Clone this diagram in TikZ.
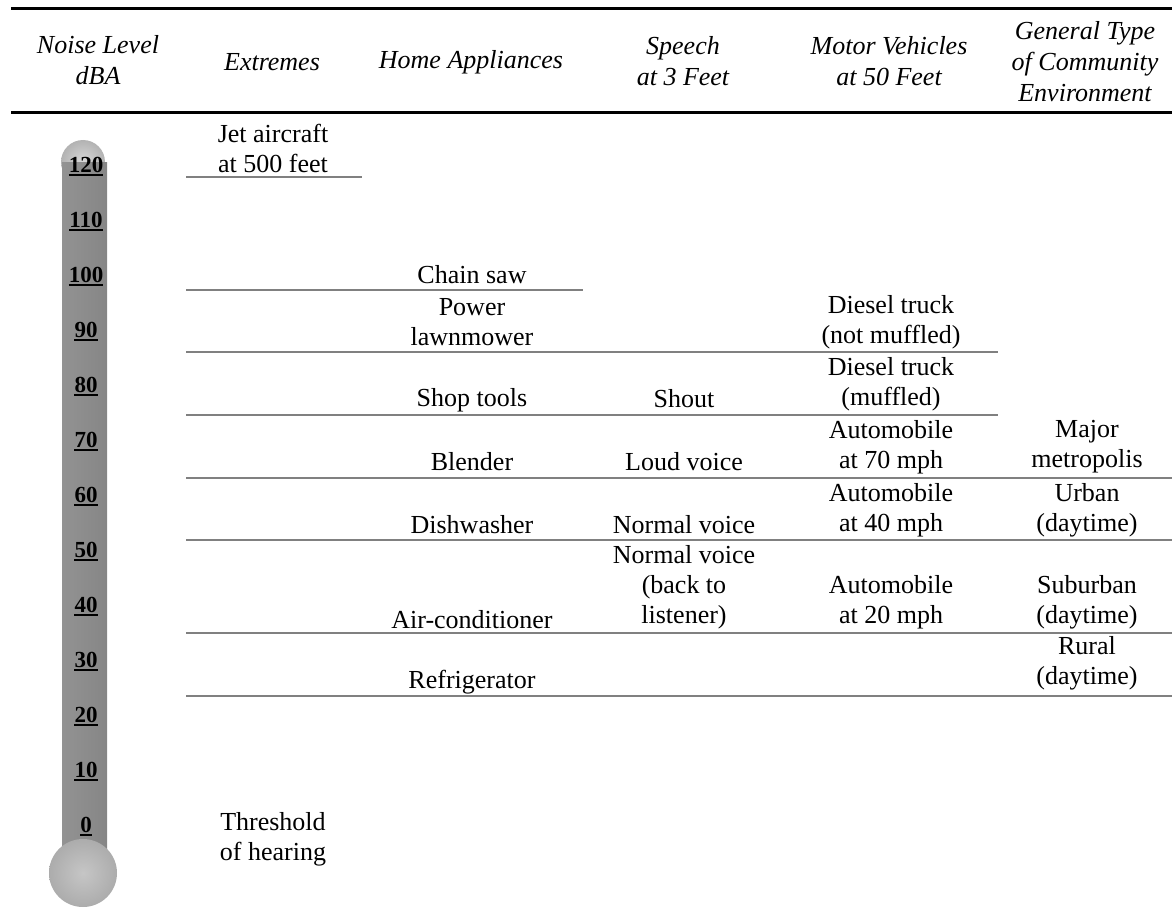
\documentclass[tikz,border=0pt]{standalone}
\usepackage{fontspec}
\setmainfont{Liberation Serif}
\usetikzlibrary{calc}
\definecolor{rulegray}{HTML}{808080}
\def\rowrule(#1)(#2:#3) {\draw[rowline] (#2,#1) -- (#3,#1);}
\def\scalemark(#1)(#2) {\node[degree] (n#2) at (86,#1) {#2};
		\draw[line width=2.5pt] ([yshift=-3pt]n#2.base west) -- ([yshift=-3pt]n#2.base east);}
\tikzset{
	cell/.style={align=center, inner sep=0pt},
	head/.style={cell, font=\fontsize{26}{31}\selectfont\itshape},
	rowline/.style={draw=rulegray, line width=2pt},
	headrule/.style={draw=black, line width=3pt},
	degree/.style={inner sep=0pt, anchor=base, font=\fontsize{23}{23}\selectfont\bfseries}
}

\begin{document}
\begin{tikzpicture}[x=1pt, y=-1pt, font=\fontsize{26}{30}\selectfont]

	\useasboundingbox (0,0) rectangle (1172,923);

	% header
	\draw[headrule] (11,9) -- (1172,9);
	\draw[headrule] (11,113) -- (1172,113);
	\node[head] (noise) at (98,60) {Noise Level\\dBA};
	\node[head] (extremes) at (272,62) {Extremes};
	\node[head] (home) at (471,62) {Home Appliances};
	\node[head] (speech) at (683,61) {Speech\\at 3 Feet};
	\node[head] (motor) at (889,61) {Motor Vehicles\\at 50 Feet};
	\node[head] (general) at (1085,62) {General Type\\of Community\\Environment};

	% thermometer
	\shade[inner color=gray!30, outer color=gray!60] (83,162) circle (22);
	\shade[left color=gray!85, middle color=gray!40, right color=gray!95] (62,162) rectangle (107,848);
	\shade[inner color=gray!45, outer color=gray!65] (83,873) circle (34);
	%\draw[gray!70] (83,873) circle (34);

	\scalemark(172)(120)
	\scalemark(227)(110)
	\scalemark(282)(100)
	\scalemark(337)(90)
	\scalemark(392)(80)
	\scalemark(447)(70)
	\scalemark(502)(60)
	\scalemark(557)(50)
	\scalemark(612)(40)
	\scalemark(667)(30)
	\scalemark(722)(20)
	\scalemark(777)(10)
	\scalemark(832)(0)

	% rows
	\rowrule(177)(186:362)
	\rowrule(290)(186:583)
	\rowrule(352)(186:998)
	\rowrule(415)(186:998)
	\rowrule(478)(186:1172)
	\rowrule(540)(186:1172)
	\rowrule(633)(186:1172)
	\rowrule(696)(186:1172)

	% extremes
	\node[cell] (jet) at (273,148) {Jet aircraft\\at 500 feet};
	\node[cell] (threshold) at (273,839) {Threshold\\of hearing};

	% home appliances
	\node[cell] (chainsaw) at (472,275) {Chain saw};
	\node[cell] (mower) at (472,322) {Power\\lawnmower};
	\node[cell] (shoptools) at (472,400) {Shop tools};
	\node[cell] (blender) at (472,462) {Blender};
	\node[cell] (dishwasher) at (472,525) {Dishwasher};
	\node[cell] (aircond) at (472,620) {Air-conditioner};
	\node[cell] (fridge) at (472,682) {Refrigerator};

	% speech
	\node[cell] (shout) at (684,399) {Shout};
	\node[cell] (loud) at (684,462) {Loud voice};
	\node[cell] (normal) at (684,525) {Normal voice};
	\node[cell] (backvoice) at (684,587) {Normal voice\\(back to\\listener)};

	% motor vehicles
	\node[cell] (diesel) at (891,322) {Diesel truck\\(not muffled)};
	\node[cell] (dieselm) at (891,384) {Diesel truck\\(muffled)};
	\node[cell] (auto70) at (891,447) {Automobile\\at 70 mph};
	\node[cell] (auto40) at (891,510) {Automobile\\at 40 mph};
	\node[cell] (auto20) at (891,602) {Automobile\\at 20 mph};

	% community
	\node[cell] (metro) at (1087,447) {Major\\metropolis};
	\node[cell] (urban) at (1087,510) {Urban\\(daytime)};
	\node[cell] (suburban) at (1087,602) {Suburban\\(daytime)};
	\node[cell] (rural) at (1087,663) {Rural\\(daytime)};

\end{tikzpicture}
\end{document}
